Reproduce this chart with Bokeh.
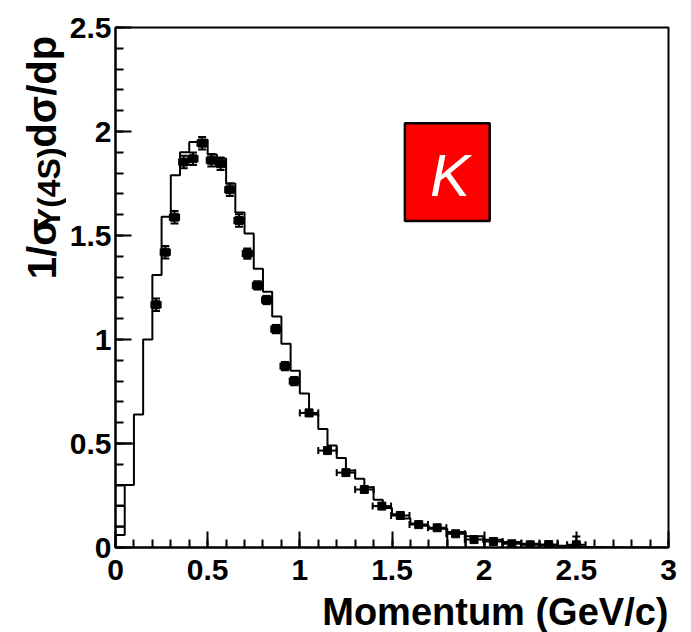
from math import pi
from bokeh.plotting import figure
from bokeh.layouts import row, column
from bokeh.models import Range1d, Label, Whisker, TeeHead, ColumnDataSource, SingleIntervalTicker
from bokeh.core.properties import value
from bokeh.embed import file_html
from bokeh.resources import INLINE

# ---------------- data ----------------
# MC histogram: lower bin edges (GeV/c) and bin contents
mc_lo = [0.00, 0.05, 0.10, 0.15, 0.20, 0.25, 0.30, 0.35, 0.40, 0.45,
         0.50, 0.55, 0.60, 0.65, 0.70, 0.75, 0.80, 0.85, 0.90, 0.95,
         1.00, 1.05, 1.10, 1.15, 1.20, 1.25, 1.30, 1.35, 1.40, 1.45,
         1.50, 1.55, 1.60, 1.65, 1.70, 1.75, 1.80, 1.85, 1.90, 1.95,
         2.00, 2.05, 2.10, 2.15, 2.20, 2.25, 2.30, 2.35, 2.40, 2.45,
         2.50, 2.55, 2.60, 2.65, 2.70, 2.75, 2.80, 2.85, 2.90, 2.95]
mc_hi_end = 3.0
mc_val = [0.06, 0.30, 0.64, 1.00, 1.31, 1.59, 1.79, 1.90, 1.95, 1.96,
          1.89, 1.87, 1.75, 1.61, 1.51, 1.34, 1.23, 1.11, 0.98, 0.85,
          0.74, 0.64, 0.57, 0.49, 0.43, 0.37, 0.33, 0.29, 0.23, 0.19,
          0.16, 0.14, 0.115, 0.105, 0.09, 0.09, 0.074, 0.074, 0.054, 0.054,
          0.037, 0.037, 0.026, 0.026, 0.018, 0.018, 0.012, 0.010, 0.008, 0.006,
          0.004, 0.003, 0.002, 0.001, 0.001, 0.0, 0.0, 0.0, 0.0, 0.0]

# extra low-momentum histogram levels (x0, x1, y)
low_x0 = [0.00, 0.00, 0.00, 0.00]
low_x1 = [0.10, 0.05, 0.05, 0.05]
low_y = [0.50, 0.30, 0.20, 0.10]

# histogram drops to the axis
drop_x = [1.80, 1.90]
drop_y = [0.074, 0.054]

# data points
data_p = [0.22, 0.27, 0.32, 0.37, 0.42, 0.47, 0.52, 0.57, 0.62, 0.67,
          0.715, 0.77, 0.82, 0.87, 0.92, 0.97, 1.05, 1.15, 1.25, 1.35,
          1.445, 1.545, 1.645, 1.745, 1.845, 1.945, 2.05, 2.15, 2.25, 2.35, 2.50]
data_y = [1.167, 1.42, 1.588, 1.853, 1.869, 1.944, 1.862, 1.845, 1.72, 1.572,
          1.413, 1.26, 1.19, 1.05, 0.872, 0.80, 0.647, 0.466, 0.36, 0.279,
          0.199, 0.154, 0.11, 0.095, 0.066, 0.038, 0.029, 0.018, 0.013, 0.014, 0.013]
data_xerr = [0.025] * 16 + [0.05] * 15
data_yerr = [0.03, 0.03, 0.03, 0.03, 0.03, 0.03, 0.03, 0.03, 0.03, 0.03,
             0.025, 0.02, 0.02, 0.02, 0.02, 0.02, 0.015, 0.012, 0.01, 0.01,
             0.008, 0.008, 0.008, 0.008, 0.008, 0.008, 0.008, 0.008, 0.008, 0.008, 0.04]

x_title = "Momentum (GeV/c)"
y_title_main = "1/σ"
y_title_sub = "Υ(4S)"
y_title_end = "dσ/dp"
box_text = "K"

FONT = "Liberation Sans"
MAIN_H = 593

# ---------------- main figure ----------------
p = figure(width=625, height=MAIN_H, x_range=Range1d(0, 3), y_range=Range1d(0, 2.5),
           output_backend="svg", toolbar_location=None,
           min_border_left=49, min_border_right=23, min_border_top=27, min_border_bottom=46)
p.background_fill_color = "white"
p.border_fill_color = "white"
p.outline_line_color = "black"
p.outline_line_width = 2
p.xgrid.visible = False
p.ygrid.visible = False

for ax in (p.xaxis[0], p.yaxis[0]):
    ax.ticker = SingleIntervalTicker(interval=0.5, num_minor_ticks=5)
    ax.axis_line_color = "black"
    ax.axis_line_width = 2
    ax.major_tick_in = 16
    ax.major_tick_out = 0
    ax.minor_tick_in = 8
    ax.minor_tick_out = 0
    ax.major_tick_line_width = 2
    ax.minor_tick_line_width = 2
    ax.major_tick_line_color = "black"
    ax.minor_tick_line_color = "black"
    ax.major_label_text_font = FONT
    ax.major_label_text_font_style = "bold"
    ax.major_label_text_font_size = "30px"
    ax.major_label_text_color = "black"

p.xaxis.major_label_standoff = 12
p.yaxis.major_label_standoff = 4

# MC histogram step
step_x = [0.0] + mc_lo + [mc_hi_end]
step_y = [0.0] + mc_val + [mc_val[-1]]
p.step(step_x, step_y, mode="after", line_color="black", line_width=2)
p.segment(x0=low_x0, y0=low_y, x1=low_x1, y1=low_y, line_color="black", line_width=2)
p.segment(x0=drop_x, y0=[0] * len(drop_x), x1=drop_x, y1=drop_y, line_color="black", line_width=2)

# data points with error bars
src = ColumnDataSource(dict(
    x=data_p, y=data_y,
    xl=[a - b for a, b in zip(data_p, data_xerr)],
    xu=[a + b for a, b in zip(data_p, data_xerr)],
    yl=[a - b for a, b in zip(data_y, data_yerr)],
    yu=[a + b for a, b in zip(data_y, data_yerr)],
))
p.add_layout(Whisker(source=src, base="y", lower="xl", upper="xu", dimension="width",
                     line_color="black", line_width=2,
                     lower_head=TeeHead(size=7, line_width=2, line_color="black"),
                     upper_head=TeeHead(size=7, line_width=2, line_color="black")))
p.add_layout(Whisker(source=src, base="x", lower="yl", upper="yu", dimension="height",
                     line_color="black", line_width=2,
                     lower_head=TeeHead(size=8, line_width=2, line_color="black"),
                     upper_head=TeeHead(size=8, line_width=2, line_color="black")))
p.scatter("x", "y", source=src, marker="square", size=8, fill_color="black", line_color="black")

# K box
p.quad(left=[1.57], right=[2.03], bottom=[1.57], top=[2.04],
       fill_color="#ff0000", line_color="black", line_width=2.5)
p.add_layout(Label(x=1.815, y=1.79, text=box_text, text_align="center", text_baseline="alphabetic",
                   text_font=FONT, text_font_style="italic", text_font_size="60px", text_color="white"))

# ---------------- y-title strip ----------------
ty = figure(width=66, height=MAIN_H, x_range=Range1d(0, 66), y_range=Range1d(0, MAIN_H),
            output_backend="svg", toolbar_location=None,
            x_axis_location=None, y_axis_location=None,
            min_border_left=0, min_border_right=0, min_border_top=0, min_border_bottom=0)
ty.outline_line_color = None
ty.xgrid.visible = False
ty.ygrid.visible = False
ty.text(x=[41, 41], y=[306, 456], text=[y_title_main, y_title_end], angle=pi / 2,
        text_align="left", text_baseline="alphabetic", text_font=value(FONT),
        text_font_style="bold", text_font_size=value("40px"), text_color="black")
ty.text(x=[48], y=[363], text=[y_title_sub], angle=pi / 2,
        text_align="left", text_baseline="alphabetic", text_font=value(FONT),
        text_font_style="bold", text_font_size=value("32px"), text_color="black")

# ---------------- x-title strip ----------------
tx = figure(width=691, height=632 - MAIN_H, x_range=Range1d(0, 691), y_range=Range1d(0, 632 - MAIN_H),
            output_backend="svg", toolbar_location=None,
            x_axis_location=None, y_axis_location=None,
            min_border_left=0, min_border_right=0, min_border_top=0, min_border_bottom=0)
tx.outline_line_color = None
tx.xgrid.visible = False
tx.ygrid.visible = False
tx.text(x=[668], y=[20.5], text=[x_title], text_align="right", text_baseline="alphabetic",
        text_font=value(FONT), text_font_style="bold", text_font_size=value("38px"),
        text_color="black")

layout = column(row(ty, p, spacing=0), tx, spacing=0)
open("out.html", "w").write(file_html(layout, INLINE))
